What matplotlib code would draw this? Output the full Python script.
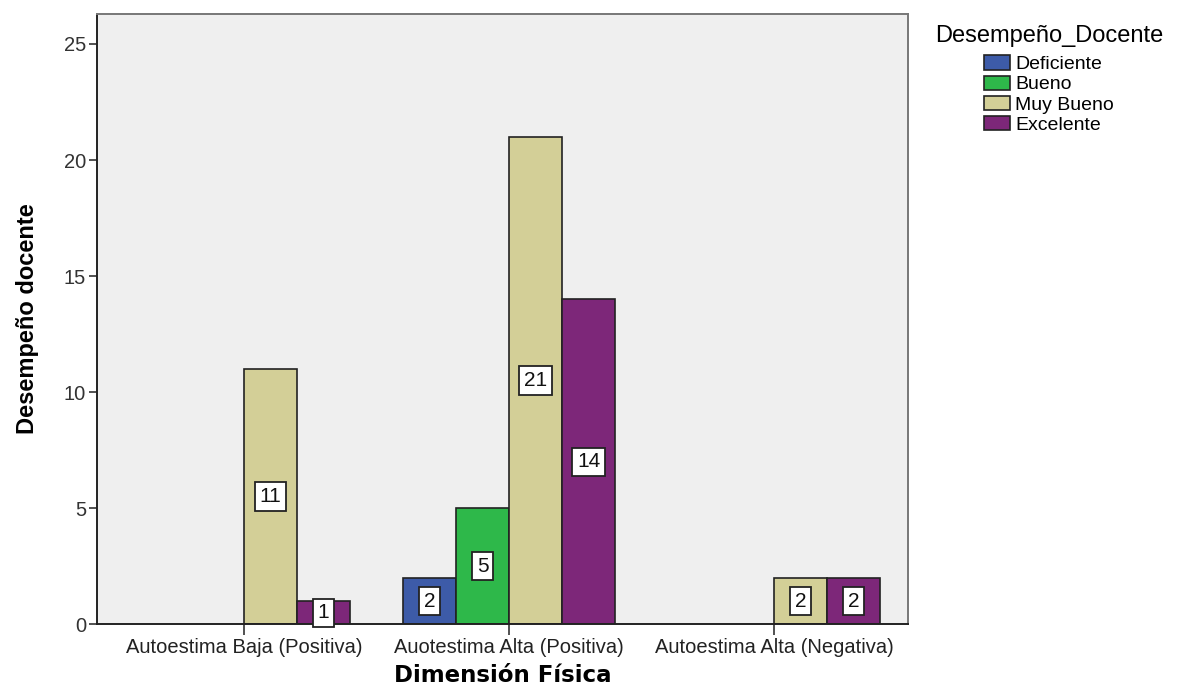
import matplotlib
matplotlib.use("Agg")
import matplotlib.pyplot as plt
from matplotlib.patches import Patch

# counts per group of "Dimensión Física", one list per Desempeño_Docente level
categories = ["Autoestima Baja (Positiva)", "Auotestima Alta (Positiva)", "Autoestima Alta (Negativa)"]
levels = ["Deficiente", "Bueno", "Muy Bueno", "Excelente"]
deficiente = [0, 2, 0]
bueno = [0, 5, 0]
muy_bueno = [11, 21, 2]
excelente = [1, 14, 2]
y_ticks = [0, 5, 10, 15, 20, 25]

colors = ["#3d5ba8", "#2eb84a", "#d3cf97", "#7d2779"]
series = [deficiente, bueno, muy_bueno, excelente]

plt.rcParams["font.family"] = ["Liberation Sans", "DejaVu Sans"]

fig = plt.figure(figsize=(11.84, 6.89), dpi=100)
ax = fig.add_axes([0.082, 0.094, 0.685, 0.886])
ax.set_facecolor("#efefef")

width = 0.2
offsets = [-0.3, -0.1, 0.1, 0.3]
for vals, off, col in zip(series, offsets, colors):
    for i, v in enumerate(vals):
        if v == 0:
            continue
        ax.bar(i + off, v, width=width, color=col, edgecolor="#222222",
               linewidth=1.2, zorder=2)
        ax.text(i + off, v / 2, str(v), ha="center", va="center",
                fontsize=15, color="#111111", zorder=3,
                bbox=dict(boxstyle="square,pad=0.22", fc="white",
                          ec="#222222", lw=1.3))

ax.set_xlim(-0.555, 2.506)
ax.set_ylim(0, 26.3)
ax.set_xticks(range(len(categories)))
ax.set_xticklabels(categories)
ax.set_yticks(y_ticks)
ax.tick_params(axis="x", length=8, width=1.2, color="#333333",
               labelsize=14.5, labelcolor="#222222", pad=2)
ax.tick_params(axis="y", length=6, width=1.2, color="#333333",
               labelsize=14.5, labelcolor="#333333", pad=2)
for side in ["left", "bottom"]:
    ax.spines[side].set_color("#222222")
    ax.spines[side].set_linewidth(1.4)
for side in ["top", "right"]:
    ax.spines[side].set_color("#777777")
    ax.spines[side].set_linewidth(1.4)

ax.set_xlabel("Dimensión Física", fontsize=16.5, fontweight="bold",
              family=["DejaVu Sans"], labelpad=5)
ax.set_ylabel("Desempeño docente", fontsize=17, fontweight="bold",
              labelpad=18)

handles = [Patch(facecolor=c, edgecolor="#222222", linewidth=1.2) for c in colors]
leg = fig.legend(handles, levels, title="Desempeño_Docente",
                 loc="upper left", bbox_to_anchor=(0.783, 0.975),
                 frameon=False, fontsize=14, title_fontsize=17,
                 handlelength=1.35, handleheight=0.75, labelspacing=0.12,
                 handletextpad=0.25, borderaxespad=0)
leg._legend_box.sep = 6

fig.savefig("out.png", dpi=100)
